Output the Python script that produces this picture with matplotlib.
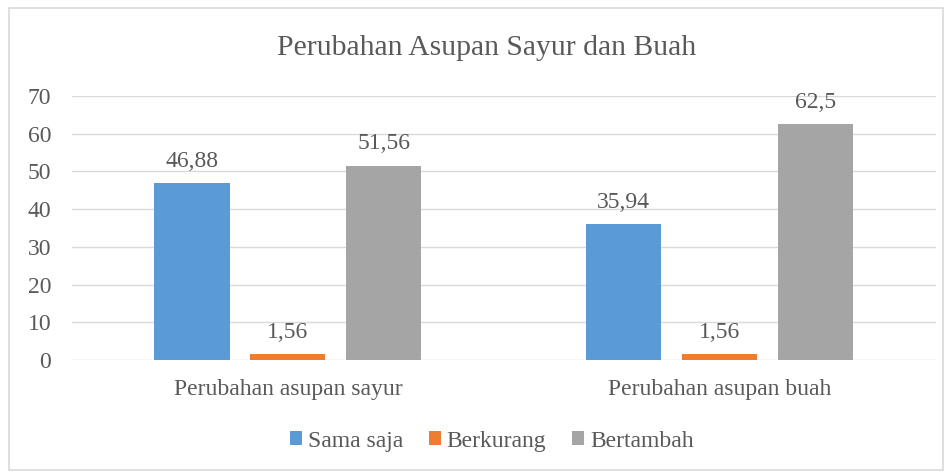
import numpy as np
import matplotlib.pyplot as plt
from matplotlib.patches import Rectangle

categories = ["Perubahan asupan sayur", "Perubahan asupan buah"]
series_names = ["Sama saja", "Berkurang", "Bertambah"]
sama_saja = [46.88, 35.94]
berkurang = [1.56, 1.56]
bertambah = [51.56, 62.5]
value_labels = [["46,88", "35,94"], ["1,56", "1,56"], ["51,56", "62,5"]]
colors = ["#5b9bd5", "#ed7d31", "#a5a5a5"]

plt.rcParams["font.family"] = ["Liberation Serif", "DejaVu Serif"]
text_color = "#595959"

fig = plt.figure(figsize=(9.5, 4.73), dpi=100)
ax = fig.add_axes([0.0758, 0.239, 0.909, 0.558])

# outer chart border
fig.patches.append(Rectangle((9 / 950, 1 - 470 / 473), 934 / 950, 462 / 473,
                             transform=fig.transFigure, fill=False,
                             edgecolor="#d9d9d9", linewidth=1.2))

x = np.arange(len(categories))
offsets = [-0.222, 0, 0.222]
width = 0.174
for i, vals in enumerate([sama_saja, berkurang, bertambah]):
    bars = ax.bar(x + offsets[i], vals, width, color=colors[i],
                  label=series_names[i], zorder=3)
    for b, lab in zip(bars, value_labels[i]):
        ax.text(b.get_x() + b.get_width() / 2, b.get_height() + 4.3, lab,
                ha="center", va="baseline", fontsize=17, color=text_color)

ax.set_xlim(-0.5, 1.5)
ax.set_ylim(0, 70)
ax.set_yticks(range(0, 71, 10))
ax.set_xticks(x)
ax.set_xticklabels(categories)
ax.tick_params(axis="both", length=0, labelsize=17, colors=text_color)
ax.tick_params(axis="y", pad=15)
ax.tick_params(axis="x", pad=14)
ax.grid(axis="y", color="#d9d9d9", linewidth=1, zorder=0)
for s in ax.spines.values():
    s.set_visible(False)

fig.text(486.5 / 950, 1 - 48 / 473, "Perubahan Asupan Sayur dan Buah",
         ha="center", va="center", fontsize=21.3, color=text_color)

ax.legend(loc="center", bbox_to_anchor=(492 / 950, 1 - 441 / 473),
          bbox_transform=fig.transFigure, ncol=3, frameon=False,
          fontsize=17, labelcolor=text_color, handlelength=0.5,
          handleheight=0.5, handletextpad=0.25, columnspacing=1.1)

fig.savefig("out.png", dpi=100)
